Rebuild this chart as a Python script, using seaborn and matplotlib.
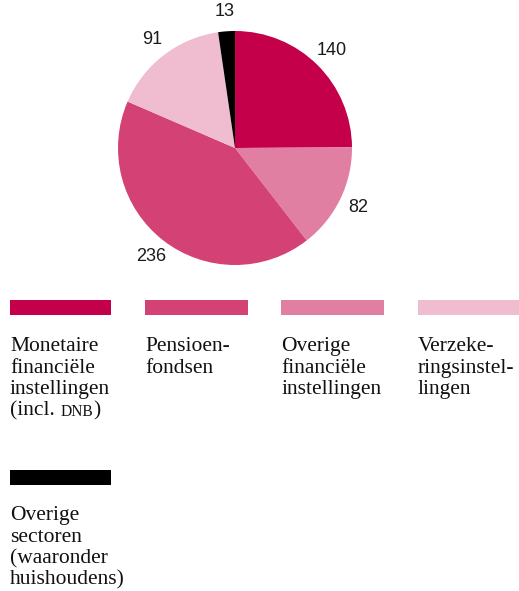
import matplotlib
matplotlib.use("Agg")
import matplotlib.pyplot as plt
import matplotlib.patches as mpatches
import seaborn as sns

# ================== DATA ==================
categories = [
    ["Monetaire", "financiële", "instellingen", "(incl. |DNB|)"],
    ["Pensioen-", "fondsen"],
    ["Overige", "financiële", "instellingen"],
    ["Verzeke-", "ringsinstel-", "lingen"],
    ["Overige", "sectoren", "(waaronder", "huishoudens)"],
]
values = [140, 236, 82, 91, 13]
colors = ["#C4004A", "#D44175", "#E07FA1", "#F0BCCF", "#000000"]
# clockwise order of the slices, starting at 12 o'clock
pie_order = [0, 2, 1, 3, 4]

# ================== STYLE ==================
sns.set_style("white")
serif = ["Liberation Serif", "DejaVu Serif"]
sans = ["Liberation Sans", "DejaVu Sans"]

W, H = 519, 591
fig = plt.figure(figsize=(W / 100, H / 100), dpi=100)

# ================== PIE ==================
cx, cy, r = 235, 148, 117
side = 2.5 * r
ax = fig.add_axes([(cx - side / 2) / W, 1 - (cy + side / 2) / H, side / W, side / H])

pie_vals = [values[i] for i in pie_order]
pie_cols = [colors[i] for i in pie_order]
total = sum(pie_vals)
wedges, _, autotexts = ax.pie(
    pie_vals, colors=pie_cols, startangle=90, counterclock=False,
    autopct=lambda p: f"{p * total / 100:.0f}", pctdistance=1.17,
    wedgeprops=dict(linewidth=0),
)
for t in autotexts:
    t.set_fontfamily(sans)
    t.set_fontsize(13)
    t.set_color("#1a1a1a")
ax.set_aspect("equal")

# ================== LEGEND ==================
col_x = [10, 145, 281, 418]
col_w = [101, 103, 103, 101]
rows = [(300, 351), (470, 520)]  # (bar top, first baseline) in px from top
bar_h = 15
line_h = 21.6
fs = 15.5

for k, (lines, col) in enumerate(zip(categories, colors)):
    row, c = divmod(k, 4)
    x0, w = col_x[c], col_w[c]
    bar_top, base0 = rows[row]
    fig.patches.append(mpatches.Rectangle(
        (x0 / W, 1 - (bar_top + bar_h) / H), w / W, bar_h / H,
        transform=fig.transFigure, color=col, linewidth=0))
    for i, line in enumerate(lines):
        yb = H - (base0 + i * line_h)
        parts = line.split("|")
        prev = fig.text(x0 / W, yb / H, parts[0], fontfamily=serif,
                        fontsize=fs, va="baseline", ha="left", color="#111111")
        for j, part in enumerate(parts[1:]):
            prev = plt.annotate(part, xy=(1, yb), xycoords=(prev, "figure pixels"),
                                fontfamily=serif, color="#111111",
                                fontsize=fs * 0.72 if j == 0 else fs,
                                va="baseline", ha="left", annotation_clip=False)

fig.savefig("out.png", dpi=100)
